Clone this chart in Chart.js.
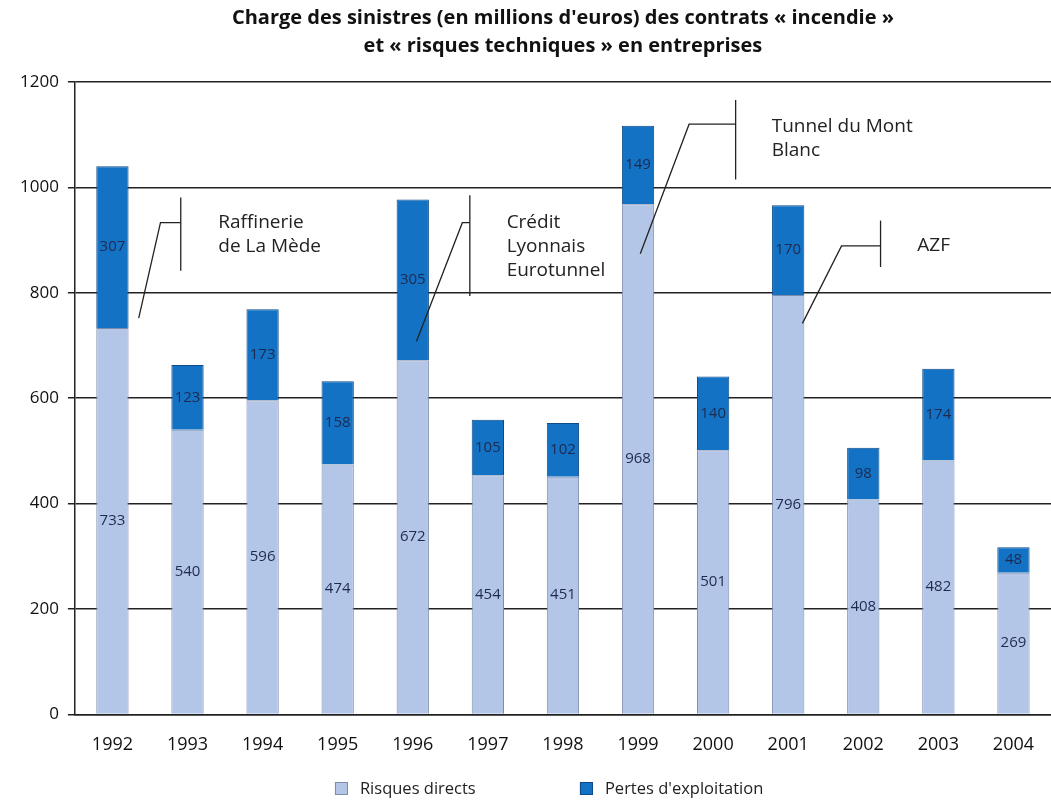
<!DOCTYPE html>
<html>
<head>
<meta charset="utf-8">
<script src="https://cdn.jsdelivr.net/npm/chart.js@4.4.1/dist/chart.umd.min.js"></script>
<style>
  body { margin: 0; background: #fff; }
  #wrap { width: 1051px; height: 800px; position: relative; }
</style>
</head>
<body>
<div id="wrap"><canvas id="sinistres"></canvas></div>
<script>
// data
const years = ['1992', '1993', '1994', '1995', '1996', '1997', '1998', '1999', '2000', '2001', '2002', '2003', '2004'];
const risquesDirects = [733, 540, 596, 474, 672, 454, 451, 968, 501, 796, 408, 482, 269];
const pertesExploitation = [307, 123, 173, 158, 305, 105, 102, 149, 140, 170, 98, 174, 48];

// callouts: [category index, value] pairs, text lines
const callouts = [
  { path: [[0.35, 752], [0.64, 933], [0.91, 933]], bar: [0.91, 981, 842], text: ['Raffinerie', 'de La Mède'], at: [1.41, 933] },
  { path: [[4.05, 708], [4.66, 933], [4.76, 933]], bar: [4.76, 985, 794], text: ['Crédit', 'Lyonnais', 'Eurotunnel'], at: [5.25, 933] },
  { path: [[7.03, 874], [7.68, 1120], [8.30, 1120]], bar: [8.30, 1166, 1015], text: ['Tunnel du Mont', 'Blanc'], at: [8.78, 1115] },
  { path: [[9.19, 742], [9.71, 889], [10.23, 889]], bar: [10.23, 937, 849], text: ['AZF'], at: [10.72, 889] }
];

const FONT = "'Open Sans', 'Noto Sans', sans-serif";

// labels inside each segment
const segmentLabels = {
  id: 'segmentLabels',
  afterDatasetsDraw(chart) {
    const ctx = chart.ctx;
    ctx.save();
    ctx.font = '15px ' + FONT;
    ctx.fillStyle = '#1d2a50';
    ctx.textAlign = 'center';
    ctx.textBaseline = 'middle';
    chart.data.datasets.forEach((ds, i) => {
      chart.getDatasetMeta(i).data.forEach((bar, j) => {
        const y = (bar.y + bar.base) / 2;
        ctx.fillText(ds.data[j], bar.x, y);
      });
    });
    ctx.restore();
  }
};

// annotation lines and texts
const calloutPlugin = {
  id: 'callouts',
  afterDatasetsDraw(chart) {
    const ctx = chart.ctx;
    const xs = chart.scales.x, ys = chart.scales.y;
    const x0 = xs.getPixelForValue(0);
    const pitch = xs.getPixelForValue(1) - x0;
    const px = i => x0 + i * pitch;
    ctx.save();
    ctx.strokeStyle = '#222';
    ctx.lineWidth = 1.3;
    callouts.forEach(c => {
      ctx.beginPath();
      c.path.forEach((p, k) => {
        if (k === 0) ctx.moveTo(px(p[0]), ys.getPixelForValue(p[1]));
        else ctx.lineTo(px(p[0]), ys.getPixelForValue(p[1]));
      });
      ctx.stroke();
      ctx.beginPath();
      ctx.moveTo(px(c.bar[0]), ys.getPixelForValue(c.bar[1]));
      ctx.lineTo(px(c.bar[0]), ys.getPixelForValue(c.bar[2]));
      ctx.stroke();
      ctx.font = '19px ' + FONT;
      ctx.fillStyle = '#222';
      ctx.textAlign = 'left';
      ctx.textBaseline = 'middle';
      c.text.forEach((t, k) => {
        ctx.fillText(t, px(c.at[0]), ys.getPixelForValue(c.at[1]) + k * 24);
      });
    });
    ctx.restore();
  }
};

// legend at the bottom, wide gap between the two items
const bottomLegend = {
  id: 'bottomLegend',
  afterDraw(chart) {
    const ctx = chart.ctx;
    const area = chart.chartArea;
    const mid = (area.left + area.right) / 2;
    const starts = [mid - 228, mid + 17];
    const y = chart.height - 11;
    ctx.save();
    ctx.font = '16.5px ' + FONT;
    ctx.textBaseline = 'middle';
    ctx.textAlign = 'left';
    chart.data.datasets.forEach((ds, i) => {
      const x = starts[i];
      ctx.fillStyle = ds.backgroundColor;
      ctx.fillRect(x, y - 7, 13, 13);
      ctx.strokeStyle = ds.borderColor;
      ctx.lineWidth = 1;
      ctx.strokeRect(x + 0.5, y - 6.5, 12, 12);
      ctx.fillStyle = '#222';
      ctx.fillText(ds.label, x + 25, y);
    });
    ctx.restore();
  }
};

const config = {
  type: 'bar',
  data: {
    labels: years,
    datasets: [{
      label: 'Risques directs',
      data: risquesDirects,
      backgroundColor: '#b4c6e8',
      borderColor: '#7d8cab',
      borderWidth: 1,
      barPercentage: 0.43,
      categoryPercentage: 1
    }, {
      label: "Pertes d'exploitation",
      data: pertesExploitation,
      backgroundColor: '#1472c4',
      borderColor: '#0c4a88',
      borderWidth: 1,
      barPercentage: 0.43,
      categoryPercentage: 1
    }]
  },
  options: {
    responsive: true,
    maintainAspectRatio: false,
    animation: false,
    layout: { padding: { top: 2, right: 0, left: 11, bottom: 32 } },
    plugins: {
      title: {
        display: true,
        fullSize: false,
        text: ["Charge des sinistres (en millions d'euros) des contrats « incendie »", 'et « risques techniques » en entreprises'],
        color: '#111',
        font: { family: FONT, size: 20, weight: 'bold', lineHeight: 1.4 },
        padding: { top: 2, bottom: 22 }
      },
      legend: { display: false },
      tooltip: { enabled: false }
    },
    scales: {
      x: {
        stacked: true,
        grid: { display: false },
        border: { display: true, color: '#222', width: 1.5 },
        ticks: { color: '#111', font: { family: FONT, size: 18 }, padding: 12 }
      },
      y: {
        stacked: true,
        min: 0,
        max: 1200,
        ticks: {
          stepSize: 200, color: '#111', font: { family: FONT, size: 17 }, padding: 9,
          callback: v => String(v)
        },
        grid: { color: '#222', lineWidth: 1.5, tickLength: 7 },
        border: { display: true, color: '#222', width: 1.5 }
      }
    }
  },
  plugins: [segmentLabels, calloutPlugin, bottomLegend]
};

new Chart(document.getElementById('sinistres'), config);
</script>
</body>
</html>
